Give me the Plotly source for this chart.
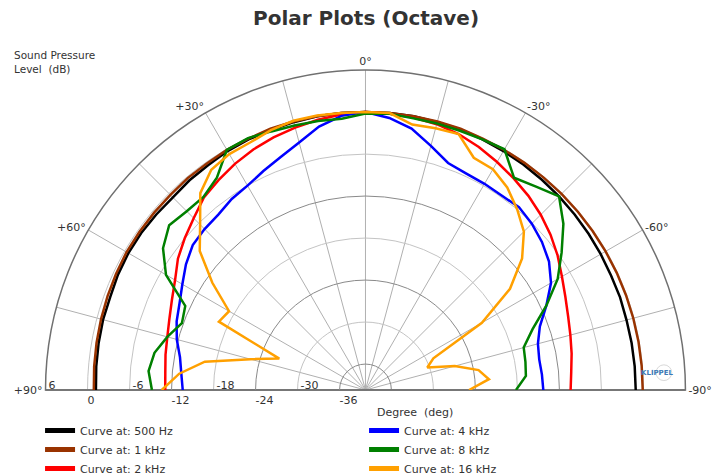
import plotly.graph_objects as go

# Angles (deg): +90 (left) ... 0 (top) ... -90 (right)
angles = list(range(90, -91, -5))

spl_500hz = [-1.2, -1.1, -1.0, -0.9, -0.9, -0.7, -0.6, -0.6, -0.7, -0.8, -0.6, -0.5, -0.3, -0.2, -0.2, -0.1, 0.0, 0.0, 0.0,
             0.0, 0.0, -0.1, -0.1, -0.2, -0.3, -0.4, -0.5, -0.6, -0.7, -0.8, -0.9, -1.0, -1.0, -1.1, -1.1, -1.1, -1.1]
spl_1khz = [-0.9, -0.8, -0.7, -0.6, -0.5, -0.4, -0.3, -0.3, -0.3, -0.3, -0.2, -0.2, -0.1, -0.1, 0.0, 0.0, 0.0, 0.0, 0.0,
            0.0, 0.0, 0.0, 0.0, -0.1, -0.1, -0.1, -0.1, -0.1, -0.1, -0.1, -0.1, -0.1, -0.1, -0.1, -0.1, -0.1, -0.1]
spl_2khz = [-11.1, -11.0, -10.7, -10.4, -9.9, -9.2, -8.3, -7.0, -6.0, -5.0, -3.8, -3.1, -2.4, -1.8, -1.3, -0.9, -0.5, -0.2, 0.0,
            -0.1, -0.2, -0.4, -0.8, -1.4, -2.1, -2.8, -3.5, -4.3, -5.2, -6.2, -7.3, -8.2, -8.9, -9.4, -9.8, -10.2, -10.4]
spl_4khz = [-13.6, -13.3, -12.8, -11.8, -11.0, -10.4, -9.5, -8.4, -7.5, -7.2, -7.0, -6.4, -6.0, -5.2, -4.3, -3.1, -1.5, -0.4, 0.0,
            -0.7, -1.8, -3.6, -5.2, -5.6, -5.7, -5.8, -5.6, -6.1, -6.8, -7.7, -9.1, -11.2, -13.2, -14.2, -14.5, -14.4, -14.3]
spl_8khz = [-9.2, -8.6, -9.1, -10.4, -11.8, -11.3, -6.8, -4.4, -3.1, -3.6, -3.7, -2.7, -0.1, 0.0, -0.4, -0.6, -0.7, -0.8, -0.2,
            -0.1, -0.3, -0.3, -0.3, -0.2, 0.0, -2.7, -1.8, -0.6, -2.8, -5.5, -8.0, -11.2, -14.3, -16.3, -16.5, -16.7, -18.2]
spl_16khz = [-10.6, -13.0, -16.4, -22.7, -26.6, -16.6, -17.2, -13.0, -8.8, -6.3, -3.0, -1.3, -0.8, -0.7, -0.2, 0.1, 0.1, 0.0, 0.0,
             0.0, -1.2, -1.0, -0.8, -3.1, -3.3, -4.4, -6.0, -7.7, -10.5, -14.5, -20.5, -29.0, -30.3, -26.5, -23.3, -22.0, -24.9]

series_names = ["Curve at: 500 Hz", "Curve at: 1 kHz", "Curve at: 2 kHz",
                "Curve at: 4 kHz", "Curve at: 8 kHz", "Curve at: 16 kHz"]
series_values = [spl_500hz, spl_1khz, spl_2khz, spl_4khz, spl_8khz, spl_16khz]
series_colors = ["#000000", "#993300", "#ff0000", "#0000ff", "#008000", "#ffa000"]
legend_ranks = [1, 3, 5, 2, 4, 6]  # column-major ordering in a 2-column legend

angle_ticks = list(range(-90, 91, 15))
angle_text = [("+%d°" % a if a > 0 else "%d°" % a) if a % 30 == 0 else "" for a in angle_ticks]

# light grid circles (labels drawn above the baseline) and dark grid circles
radial_light_ticks = [6, 0, -6, -18, -30]
radial_upper_vals = [6, -6, -18, -30]
radial_upper_labels = ["6", "-6", "-18", "-30"]
radial_dark_ticks = [-12, -24, -36]
radial_low_ticks = [0, -12, -24, -36]
radial_low_text = ["0", "-12", "-24", "-36"]

FONT = "DejaVu Sans"
TXT = "#333333"
rrange = [-39.7, 6]
dom = dict(x=[0.0629, 0.9594], y=[0.1807, 0.8529])

# upper labels start just inside (right of) their circle as in the reference:
# nudge each along the axis by its own text width
px_per_db = 320.0 / (rrange[1] - rrange[0])
def _text_px(t):
    return sum(4.0 if c == "-" else 7.0 for c in t)
upper_pos = [v - (_text_px(t) + 3) / px_per_db for v, t in zip(radial_upper_vals, radial_upper_labels)]

fig = go.Figure()
# empty carriers so that the background grid / label subplots get drawn
for sp in ["polar", "polar2", "polar4"]:
    fig.add_trace(go.Scatterpolar(r=[None], theta=[None], mode="lines", subplot=sp,
                                  showlegend=False, hoverinfo="skip"))
for name, vals, col, rk in zip(series_names, series_values, series_colors, legend_ranks):
    fig.add_trace(go.Scatterpolar(
        r=vals, theta=angles, mode="lines", name=name, subplot="polar3",
        line=dict(color=col, width=2.5), legendgroup=name, showlegend=False))
# legend entries with the thicker swatches of the reference
for name, col, rk in zip(series_names, series_colors, legend_ranks):
    fig.add_trace(go.Scatterpolar(
        r=[None], theta=[None], mode="lines", name=name, subplot="polar3",
        line=dict(color=col, width=5), legendgroup=name, legendrank=rk, hoverinfo="skip"))

hidden_ang = dict(rotation=90, direction="counterclockwise", showgrid=False,
                  showticklabels=False, showline=False, ticks="")

fig.update_layout(
    width=715, height=476,
    margin=dict(l=0, r=0, t=0, b=0, autoexpand=False),
    paper_bgcolor="white",
    font=dict(family=FONT, size=11, color=TXT),
    polar=dict(
        domain=dom, sector=[0, 180], bgcolor="white",
        angularaxis=dict(rotation=90, direction="counterclockwise",
                         tickmode="array", tickvals=angle_ticks, ticktext=angle_text,
                         showgrid=True, gridcolor="#b0b0b0", gridwidth=1,
                         showline=True, linecolor="#707070", linewidth=1.5,
                         ticks="", tickfont=dict(family=FONT, size=11, color=TXT)),
        radialaxis=dict(range=rrange, tickmode="array", tickvals=radial_light_ticks,
                        showticklabels=False, angle=180,
                        showgrid=True, gridcolor="#c4c4c4", gridwidth=1,
                        showline=True, linecolor="#707070", linewidth=1.5, ticks=""),
    ),
    polar2=dict(
        domain=dom, sector=[0, 180], bgcolor="rgba(0,0,0,0)",
        angularaxis=hidden_ang,
        radialaxis=dict(range=rrange, tickmode="array", tickvals=radial_dark_ticks,
                        showticklabels=False, angle=0,
                        showgrid=True, gridcolor="#8a8a8a", gridwidth=1,
                        showline=True, linecolor="#707070", linewidth=1.5, ticks=""),
    ),
    polar4=dict(
        domain=dom, sector=[0, 180], bgcolor="rgba(0,0,0,0)",
        angularaxis=hidden_ang,
        radialaxis=dict(range=rrange, tickmode="array", tickvals=upper_pos,
                        ticktext=radial_upper_labels, angle=180, side="clockwise", tickangle=180,
                        showgrid=False, showline=False, ticks="",
                        tickfont=dict(family=FONT, size=11, color=TXT)),
    ),
    polar3=dict(
        domain=dom, sector=[0, 180], bgcolor="rgba(0,0,0,0)",
        angularaxis=hidden_ang,
        radialaxis=dict(range=rrange, tickmode="array", tickvals=radial_low_ticks,
                        ticktext=radial_low_text, angle=180, side="counterclockwise", tickangle=180,
                        showgrid=False, showline=False, ticks="",
                        tickfont=dict(family=FONT, size=11, color=TXT)),
    ),
    showlegend=True,
    legend=dict(orientation="h", x=0.056, xanchor="left", y=0.126, yanchor="top",
                entrywidth=279, entrywidthmode="pixels", tracegroupgap=0,
                font=dict(family=FONT, size=11, color=TXT), bgcolor="rgba(0,0,0,0)"),
    shapes=[dict(type="circle", xref="paper", yref="paper",
                 x0=0.9175, x1=0.9395, y0=0.2005, y1=0.2335,
                 line=dict(color="#d8d8d8", width=1))],
    annotations=[
        dict(text="<b>Polar Plots (Octave)</b>", x=0.512, y=0.962, xref="paper", yref="paper",
             xanchor="center", yanchor="middle",
             showarrow=False, font=dict(family=FONT, size=20, color="#333333")),
        dict(text="Sound Pressure<br>Level  (dB)", x=0.017, y=0.902, xref="paper", yref="paper",
             xanchor="left", yanchor="top", align="left", showarrow=False,
             font=dict(family=FONT, size=10.5, color=TXT)),
        dict(text="Degree  (deg)", x=0.581, y=0.134, xref="paper", yref="paper",
             xanchor="center", yanchor="middle",
             showarrow=False, font=dict(family=FONT, size=11, color=TXT)),
        dict(text="<b>KLIPPEL</b>", x=0.919, y=0.2164, xref="paper", yref="paper",
             xanchor="center", yanchor="middle",
             showarrow=False, font=dict(family=FONT, size=7, color="#3d7ab5")),
    ],
)

fig.write_html("out.html", config={"displayModeBar": False},
               post_script="document.body.style.margin='0';document.body.style.padding='0';")
